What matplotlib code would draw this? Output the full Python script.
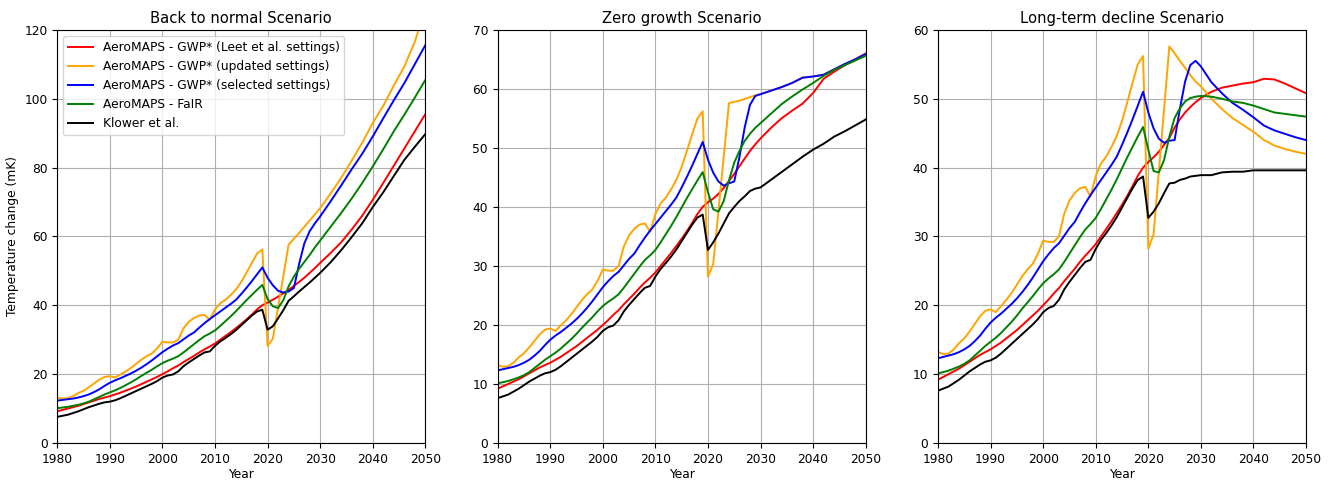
import numpy as np
import matplotlib
matplotlib.use("Agg")
import matplotlib.pyplot as plt

# historical part, common to all scenarios (1980-2019)
hist_years = list(range(1980, 2020))
hist_red = [9.2, 9.6, 10.0, 10.4, 10.8, 11.3, 11.8, 12.3, 12.8, 13.2,
            13.6, 14.1, 14.6, 15.2, 15.8, 16.4, 17.1, 17.8, 18.5, 19.2,
            20.0, 20.8, 21.7, 22.5, 23.5, 24.4, 25.3, 26.3, 27.2, 28.0,
            28.9, 30.0, 31.1, 32.2, 33.4, 34.6, 35.9, 37.3, 38.8, 40.0]
hist_orange = [13.2, 12.9, 13.0, 13.6, 14.5, 15.2, 16.2, 17.3, 18.4, 19.2,
               19.4, 19.0, 19.9, 20.8, 21.8, 23.0, 24.2, 25.2, 26.0, 27.5,
               29.4, 29.2, 29.2, 30.0, 33.3, 35.2, 36.3, 37.0, 37.2, 35.8,
               38.8, 40.6, 41.6, 43.0, 44.6, 46.8, 49.5, 52.3, 55.0, 56.2]
hist_blue = [12.3, 12.5, 12.7, 12.9, 13.2, 13.6, 14.1, 14.8, 15.6, 16.6,
             17.5, 18.2, 18.8, 19.5, 20.2, 21.0, 21.9, 22.9, 24.0, 25.2,
             26.4, 27.4, 28.3, 29.0, 30.1, 31.2, 32.1, 33.5, 34.8, 36.0,
             37.1, 38.2, 39.3, 40.4, 41.6, 43.3, 45.1, 47.0, 49.0, 51.0]
hist_green = [10.1, 10.3, 10.5, 10.8, 11.1, 11.5, 12.0, 12.7, 13.4, 14.1,
              14.7, 15.3, 16.0, 16.8, 17.6, 18.5, 19.5, 20.4, 21.3, 22.3,
              23.2, 23.9, 24.5, 25.2, 26.3, 27.5, 28.7, 29.9, 31.0, 31.8,
              32.7, 34.0, 35.4, 36.8, 38.3, 39.9, 41.5, 43.0, 44.5, 45.9]
hist_black = [7.6, 7.9, 8.2, 8.7, 9.2, 9.8, 10.4, 10.9, 11.4, 11.8,
              12.0, 12.4, 13.0, 13.7, 14.4, 15.1, 15.8, 16.5, 17.2, 18.0,
              19.0, 19.6, 19.9, 20.8, 22.3, 23.4, 24.4, 25.4, 26.3, 26.6,
              28.2, 29.5, 30.5, 31.6, 32.8, 34.2, 35.6, 37.0, 38.2, 38.7]

# scenario part (2020-2050)
fut_years = [2020, 2021, 2022, 2023, 2024, 2025, 2026, 2027, 2028, 2029, 2030,
             2032, 2034, 2036, 2038, 2040, 2042, 2044, 2046, 2048, 2050]

btn_red = [40.8, 41.6, 42.5, 43.5, 44.5, 45.6, 46.8, 48.0, 49.4, 50.8, 52.3,
           55.2, 58.3, 62.0, 66.0, 70.6, 75.5, 80.5, 85.5, 90.5, 95.5]
btn_orange = [28.2, 30.3, 39.4, 48.5, 57.6, 59.3, 61.0, 62.8, 64.6, 66.4, 68.2,
              72.5, 77.0, 82.0, 87.2, 92.9, 97.9, 103.8, 109.3, 116.5, 126.0]
btn_blue = [48.0, 45.8, 44.2, 43.7, 44.0, 45.0, 52.0, 58.0, 61.5, 63.8, 65.8,
            70.2, 74.8, 79.5, 84.0, 89.0, 94.3, 99.5, 104.5, 110.0, 115.5]
btn_green = [41.8, 39.7, 39.2, 41.5, 45.5, 48.3, 50.6, 52.6, 54.6, 56.8, 58.8,
             62.8, 66.8, 71.0, 75.5, 80.3, 85.3, 90.5, 95.3, 100.3, 105.4]
btn_black = [32.9, 33.9, 36.2, 38.6, 41.3, 42.6, 44.0, 45.3, 46.6, 48.0, 49.4,
             52.5, 56.0, 59.8, 63.8, 68.5, 72.8, 77.5, 82.2, 86.0, 89.7]

zg_red = [40.8, 41.4, 42.2, 43.2, 44.4, 45.6, 46.9, 48.2, 49.5, 50.6, 51.6,
          53.4, 55.0, 56.3, 57.5, 59.3, 61.7, 62.9, 64.0, 65.0, 66.0]
zg_orange = [28.2, 30.3, 39.4, 48.5, 57.6, 57.8, 58.0, 58.3, 58.6, 58.9, 59.1,
             59.7, 60.3, 61.0, 61.9, 62.1, 62.4, 63.3, 64.2, 65.0, 65.9]
zg_blue = [48.0, 45.8, 44.3, 43.6, 44.0, 44.3, 48.5, 53.5, 57.3, 58.8, 59.1,
           59.7, 60.3, 61.0, 61.9, 62.1, 62.4, 63.3, 64.2, 65.0, 65.9]
zg_green = [42.5, 39.6, 39.2, 41.0, 44.5, 47.5, 49.5, 51.2, 52.4, 53.4, 54.2,
            55.8, 57.4, 58.7, 59.9, 61.0, 62.2, 63.2, 64.0, 64.8, 65.6]
zg_black = [32.7, 34.0, 35.5, 37.2, 38.9, 40.0, 41.0, 41.8, 42.7, 43.1, 43.3,
            44.6, 45.9, 47.2, 48.5, 49.7, 50.7, 51.9, 52.8, 53.8, 54.8]

ltd_red = [40.8, 41.5, 42.3, 43.3, 44.3, 45.8, 47.0, 48.0, 48.8, 49.5, 50.1,
           51.0, 51.6, 51.9, 52.2, 52.4, 52.9, 52.8, 52.2, 51.5, 50.8]
ltd_orange = [28.2, 30.3, 39.4, 48.5, 57.6, 56.6, 55.5, 54.5, 53.4, 52.5, 51.8,
              50.0, 48.5, 47.2, 46.2, 45.2, 44.0, 43.2, 42.7, 42.3, 42.0]
ltd_blue = [48.0, 45.7, 44.2, 43.6, 43.9, 44.0, 48.5, 52.5, 54.9, 55.5, 54.7,
            52.4, 50.8, 49.4, 48.4, 47.3, 46.1, 45.4, 44.9, 44.4, 44.0]
ltd_green = [42.6, 39.5, 39.3, 41.1, 44.5, 47.2, 48.6, 49.6, 50.1, 50.3, 50.4,
             50.3, 50.0, 49.6, 49.4, 49.0, 48.5, 48.0, 47.8, 47.6, 47.4]
ltd_black = [32.7, 33.6, 34.8, 36.3, 37.7, 37.8, 38.2, 38.4, 38.7, 38.8, 38.9,
             38.9, 39.3, 39.4, 39.4, 39.6, 39.6, 39.6, 39.6, 39.6, 39.6]

titles = ["Back to normal Scenario", "Zero growth Scenario", "Long-term decline Scenario"]
ymax = [120, 70, 60]
labels = ["AeroMAPS - GWP* (Leet et al. settings)",
          "AeroMAPS - GWP* (updated settings)",
          "AeroMAPS - GWP* (selected settings)",
          "AeroMAPS - FaIR",
          "Klower et al."]
colors = ["red", "orange", "blue", "green", "black"]
hist = [hist_red, hist_orange, hist_blue, hist_green, hist_black]
scen = [[btn_red, btn_orange, btn_blue, btn_green, btn_black],
        [zg_red, zg_orange, zg_blue, zg_green, zg_black],
        [ltd_red, ltd_orange, ltd_blue, ltd_green, ltd_black]]

years = np.array(hist_years + fut_years)

plt.rcParams['font.size'] = 8.8
plt.rcParams['axes.titlesize'] = 10.6

fig, axes = plt.subplots(1, 3, figsize=(13.34, 4.82), dpi=100)
fig.subplots_adjust(left=0.043, right=0.979, top=0.938, bottom=0.081, wspace=0.197)

for i, ax in enumerate(axes):
    for h, f, c, lab in zip(hist, scen[i], colors, labels):
        ax.plot(years, np.array(h + f), color=c, label=lab, lw=1.4)
    ax.set_xlim(1980, 2050)
    ax.set_ylim(0, ymax[i])
    ax.set_xticks(np.arange(1980, 2051, 10))
    ax.grid(True)
    ax.set_xlabel("Year", labelpad=2)
    ax.set_title(titles[i], pad=5)

axes[0].set_ylabel("Temperature change (mK)")
axes[0].legend(loc="upper left")

fig.savefig("out.png", dpi=100)
